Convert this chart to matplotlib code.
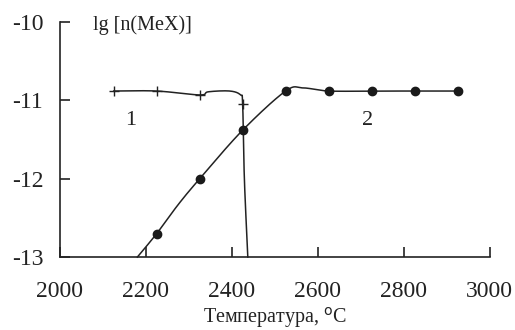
import numpy as np
import matplotlib
matplotlib.use("Agg")
import matplotlib.pyplot as plt

plt.rcParams['font.family'] = ['Liberation Serif', 'DejaVu Serif']

# Series 1 (plus markers)
s1_x = [2125, 2225, 2325, 2425]
s1_y = [-10.88, -10.88, -10.93, -11.05]
# path of curve 1 (through its markers, with a bump and the drop to -13)
c1_x = [2125, 2225, 2325, 2345, 2395, 2420, 2425, 2429, 2437]
c1_y = [-10.88, -10.88, -10.93, -10.89, -10.88, -10.93, -11.05, -12.0, -13.0]

# Series 2 (filled dots)
s2_x = [2225, 2325, 2425, 2525, 2625, 2725, 2825, 2925]
s2_y = [-12.70, -12.00, -11.38, -10.88, -10.88, -10.88, -10.88, -10.88]
# path of curve 2
c2_x = [2180, 2225, 2275, 2325, 2425, 2525, 2565, 2625, 2725, 2825, 2925]
c2_y = [-13.0, -12.70, -12.33, -12.00, -11.38, -10.88, -10.84, -10.88, -10.88, -10.88, -10.88]

x_ticks = [2000, 2200, 2400, 2600, 2800, 3000]
y_ticks = [-13, -12, -11, -10]


def catmull(xs, ys, sx=1000.0, sy=3.0, n=30):
    px = np.array(xs) / sx
    py = np.array(ys) / sy
    P = np.column_stack([px, py])
    P = np.vstack([2 * P[0] - P[1], P, 2 * P[-1] - P[-2]])
    out = []
    for i in range(1, len(P) - 2):
        p0, p1, p2, p3 = P[i - 1], P[i], P[i + 1], P[i + 2]
        t = np.linspace(0, 1, n)[:, None]
        seg = 0.5 * ((2 * p1) + (-p0 + p2) * t + (2 * p0 - 5 * p1 + 4 * p2 - p3) * t ** 2
                     + (-p0 + 3 * p1 - 3 * p2 + p3) * t ** 3)
        out.append(seg)
    out = np.vstack(out)
    return out[:, 0] * sx, out[:, 1] * sy


fig = plt.figure(figsize=(5.15, 3.3), dpi=100)
ax = fig.add_axes([0.1165, 0.221, 0.8345, 0.712])

lx, ly = catmull(c1_x, c1_y)
ax.plot(lx, ly, color='#222222', lw=1.1, clip_on=False)
ax.plot(s1_x, s1_y, linestyle='none', marker='+', markersize=7, mew=1.0, color='#222222')

lx, ly = catmull(c2_x, c2_y)
ax.plot(lx, ly, color='#222222', lw=1.1, clip_on=False)
ax.plot(s2_x, s2_y, linestyle='none', marker='o', markersize=6, color='#1a1a1a')

ax.set_xlim(2000, 3000)
ax.set_ylim(-13, -10)
ax.set_xticks(x_ticks)
ax.set_yticks(y_ticks)
ax.set_yticklabels([str(v) for v in y_ticks])
ax.tick_params(direction='in', length=7, width=1.2, labelsize=17, colors='#222222')
ax.tick_params(axis='x', pad=17)
ax.tick_params(axis='y', pad=12)
for s in ['top', 'right']:
    ax.spines[s].set_visible(False)
for s in ['left', 'bottom']:
    ax.spines[s].set_linewidth(1.2)
    ax.spines[s].set_color('#222222')

ax.text(2165, -11.26, '1', fontsize=16, ha='center', va='center', color='#222222')
ax.text(2716, -11.26, '2', fontsize=16, ha='center', va='center', color='#222222')
ax.text(2191, -10.04, 'lg [n(MeX)]', fontsize=14.5, ha='center', va='center', color='#222222')
fig.text(275 / 515, 1 - 322.5 / 330, 'Температура, $^{\\mathrm{o}}$C', fontsize=14.5,
         color='#222222', ha='center', va='baseline')

fig.savefig('out.png', dpi=100)
